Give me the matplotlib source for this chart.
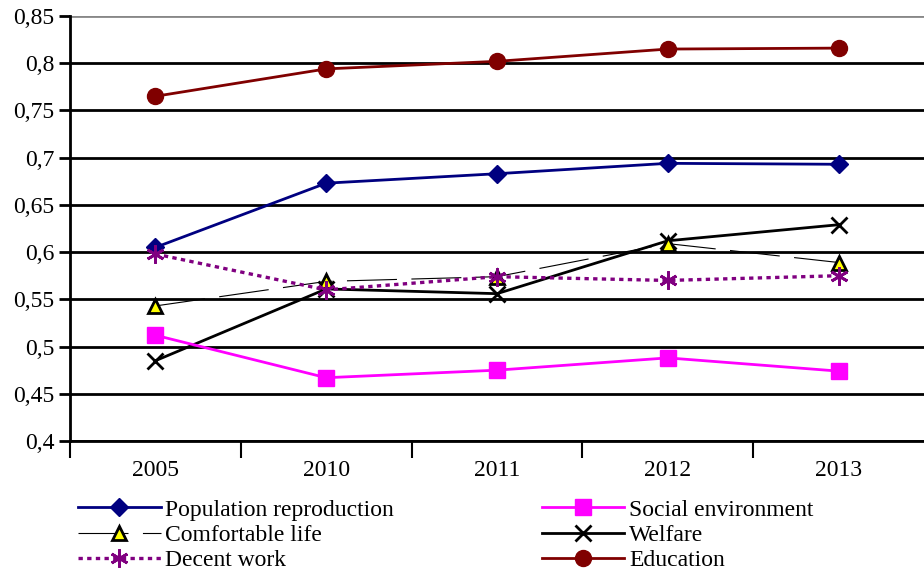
import matplotlib.pyplot as plt
from matplotlib.ticker import FixedLocator, FuncFormatter
import numpy as np

years = ['2005', '2010', '2011', '2012', '2013']

population = [0.605, 0.673, 0.683, 0.694, 0.693]
social_env = [0.512, 0.467, 0.475, 0.488, 0.474]
comfortable = [0.543, 0.569, 0.574, 0.609, 0.589]
welfare = [0.485, 0.561, 0.556, 0.612, 0.629]
decent_work = [0.598, 0.560, 0.574, 0.570, 0.575]
education = [0.765, 0.794, 0.802, 0.815, 0.816]

plt.rcParams['font.family'] = ['Liberation Serif', 'DejaVu Serif']

fig = plt.figure(figsize=(9.24, 5.70), dpi=100)
ax = fig.add_axes([70 / 924, 1 - 441 / 570, 1 - 70 / 924, (441 - 16) / 570])

x = np.arange(len(years))

ax.plot(x, education, color='#800000', lw=2, marker='o', ms=11.5,
        label='Education', zorder=3)
ax.plot(x, population, color='#000080', lw=2, marker='D', ms=9,
        label='Population reproduction', zorder=3)
ax.plot(x, welfare, color='black', lw=2, marker='x', ms=11, mew=2,
        label='Welfare', zorder=3)
ax.plot(x, comfortable, color='black', lw=0.8, dashes=(45, 13),
        marker='^', ms=10, mfc='#FFFF00', mec='black', mew=2,
        label='Comfortable life', zorder=4)
ax.plot(x, decent_work, color='#800080', lw=2.4, dashes=(1.3, 1.3),
        marker=(6, 2, 0), ms=13, mew=2, label='Decent work', zorder=4)
ax.plot(x, social_env, color='#FF00FF', lw=2, marker='s', ms=11,
        label='Social environment', zorder=3)

ax.set_xlim(-0.5, len(years) - 0.5)
ax.set_ylim(0.4, 0.85)

yticks = np.round(np.arange(0.40, 0.851, 0.05), 2)
ax.yaxis.set_major_locator(FixedLocator(yticks))
ax.yaxis.set_major_formatter(FuncFormatter(lambda v, p: ('%g' % v).replace('.', ',')))
ax.tick_params(axis='y', direction='out', length=8, width=2, labelsize=17, pad=3)

ax.set_xticks(x)
ax.set_xticklabels(years)
ax.set_xticks(np.arange(len(years)) - 0.5, minor=True)
ax.tick_params(axis='x', which='major', length=0, labelsize=17, pad=14)
ax.tick_params(axis='x', which='minor', direction='out', length=12, width=1.5)

ax.grid(axis='y', color='black', lw=2, zorder=1)
gl = ax.get_ygridlines()
gl[-1].set_color('#888888')

for s in ['top', 'right']:
    ax.spines[s].set_visible(False)
ax.spines['left'].set_linewidth(2)
ax.spines['bottom'].set_linewidth(2)

handles, labels = ax.get_legend_handles_labels()
order = ['Population reproduction', 'Comfortable life', 'Decent work',
         'Social environment', 'Welfare', 'Education']
h = [handles[labels.index(n)] for n in order]
fig.legend(h, order, ncol=2, loc='upper left', bbox_to_anchor=(78 / 924, 1 - 499 / 570),
           frameon=False, fontsize=17, handlelength=3.5, handletextpad=0.2,
           labelspacing=0.16, columnspacing=6.25, borderpad=0, borderaxespad=0)

fig.savefig('out.png', dpi=100)
